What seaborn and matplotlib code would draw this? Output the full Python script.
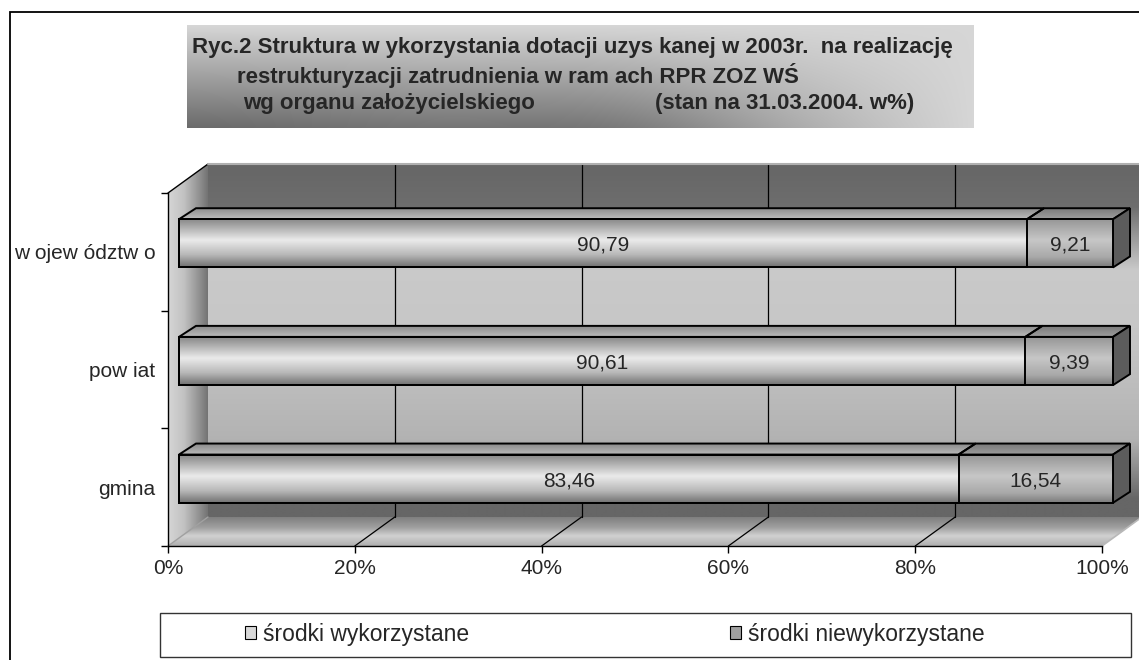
import numpy as np
import pandas as pd
import matplotlib
matplotlib.use("Agg")
import matplotlib.pyplot as plt
import seaborn as sns
from matplotlib.patches import Polygon, Rectangle, Patch

# ---------------- data ----------------
categories = ["w ojew ództw o", "pow iat", "gmina"]
used = [90.79, 90.61, 83.46]
unused = [9.21, 9.39, 16.54]
series = ["środki wykorzystane", "środki niewykorzystane"]
xticks = [0, 20, 40, 60, 80, 100]
xticklabels = ["0%", "20%", "40%", "60%", "80%", "100%"]
title_line1 = "Ryc.2 Struktura w ykorzystania dotacji uzys kanej w 2003r.  na realizację"
title_line2 = "restrukturyzacji zatrudnienia w ram ach RPR ZOZ WŚ"
title_line3a = "wg organu założycielskiego"
title_line3b = "(stan na 31.03.2004. w%)"

W, H = 1139, 660
sns.set_style("white")
plt.rcParams["font.family"] = ["Liberation Sans", "DejaVu Sans"]

fig = plt.figure(figsize=(W / 100, H / 100), dpi=100)
fig.patch.set_facecolor("white")


def fx(px):
    return px / W


def fy(py):
    return 1 - py / H


ax = fig.add_axes([fx(168), fy(546), 934 / W, 353 / H])
ax.set_facecolor("none")

df = pd.DataFrame({"kategoria": categories, "wykorzystane": used, "niewykorzystane": unused})
df["razem"] = df["wykorzystane"] + df["niewykorzystane"]

BAR_W = 0.41
sns.barplot(data=df, x="razem", y="kategoria", orient="h", color="#a8a8a8", saturation=1,
            width=BAR_W, errorbar=None, edgecolor="black", linewidth=1.4, ax=ax)
sns.barplot(data=df, x="wykorzystane", y="kategoria", orient="h", color="#dcdcdc", saturation=1,
            width=BAR_W, errorbar=None, edgecolor="black", linewidth=1.4, ax=ax)
dark_bars = list(ax.containers[0])
light_bars = list(ax.containers[1])

n = len(categories)
ax.set_xlim(0, 100)
ax.set_ylim(n - 0.5, -0.5)
ax.set_autoscale_on(False)


def shifted(x, y, dx, dy):
    X, Y = ax.transData.transform((x, y))
    return tuple(ax.transData.inverted().transform((X + dx, Y + dy)))


def gradient_fill(verts, stops, direction="v", zorder=1.0):
    verts = np.asarray(verts, dtype=float)
    poly = Polygon(verts, closed=True, facecolor="none", edgecolor="none",
                   transform=ax.transData, clip_on=False)
    ax.add_patch(poly)
    pos, val = zip(*stops)
    t = np.linspace(0, 1, 256)
    v = np.interp(t, pos, val)
    if direction == "v":
        arr = np.repeat(v[:, None], 2, axis=1)
    else:
        arr = np.repeat(v[None, :], 2, axis=0)
    rgb = np.dstack([arr, arr, arr])
    x0, x1 = verts[:, 0].min(), verts[:, 0].max()
    y0, y1 = verts[:, 1].min(), verts[:, 1].max()
    im = ax.imshow(rgb, extent=(x0, x1, y1, y0), origin="upper", aspect="auto",
                   interpolation="bilinear", zorder=zorder)
    im.set_clip_box(fig.bbox)
    im.set_clip_path(poly)
    return im


# ---------------- 3D walls ----------------
WALL = (40, 29)
yb, yt = n - 0.5, -0.5
fl, fr, tr, tl = (0, yb), (100, yb), (100, yt), (0, yt)
bfl, bfr, btr, btl = (shifted(*p, *WALL) for p in (fl, fr, tr, tl))

back_stops = [(0, 0.40), (0.12, 0.43), (0.30, 0.79), (0.47, 0.78), (0.78, 0.70), (0.95, 0.40), (1, 0.40)]
left_stops = [(0, 0.84), (0.4, 0.76), (0.8, 0.56), (1, 0.45)]
floor_stops = [(0, 0.50), (0.35, 0.62), (0.65, 0.82), (1, 0.68)]
gradient_fill([bfl, bfr, btr, btl], back_stops, "v", 0.2)
gradient_fill([tl, btl, bfl, fl], left_stops, "h", 0.3)
gradient_fill([fl, fr, bfr, bfl], floor_stops, "v", 0.3)

for xv in xticks[1:]:
    p0 = shifted(xv, yb, *WALL)
    p1 = shifted(xv, yt, *WALL)
    ax.plot([p0[0], p1[0]], [p0[1], p1[1]], color="black", lw=0.9, zorder=0.5, clip_on=False)
    if xv < 100:
        ax.plot([xv, p0[0]], [yb, p0[1]], color="black", lw=0.9, zorder=0.5, clip_on=False)

ax.plot([tl[0], btl[0]], [tl[1], btl[1]], color="black", lw=1.0, zorder=0.6, clip_on=False)
ax.plot([btl[0], btr[0]], [btl[1], btr[1]], color="#b0b0b0", lw=1.5, zorder=0.6, clip_on=False)
ax.plot([fr[0], bfr[0]], [fr[1], bfr[1]], color="#b8b8b8", lw=1.2, zorder=0.6, clip_on=False)
ax.plot([fl[0], bfl[0]], [fl[1], bfl[1]], color="#a0a0a0", lw=1.0, zorder=0.6, clip_on=False)

# ---------------- 3D bars ----------------
FRONT = (11, 8.5)
DEPTH = (17, 11)
light_front = [(0, 0.52), (0.12, 0.62), (0.45, 0.92), (0.75, 0.72), (1, 0.44)]
dark_front = [(0, 0.58), (0.45, 0.78), (0.8, 0.66), (1, 0.48)]
light_top = [(0, 0.55), (1, 0.74)]
dark_top = [(0, 0.48), (1, 0.62)]

for p in dark_bars + light_bars:
    nx, ny = shifted(p.get_x(), p.get_y(), *FRONT)
    p.set_x(nx)
    p.set_y(ny)
    p.set_clip_on(False)
    p.set_facecolor("none")
for p in dark_bars:
    p.set_zorder(3.3)
for p in light_bars:
    p.set_zorder(3.5)

for i in range(n):
    lp, dp = light_bars[i], dark_bars[i]
    y_top = lp.get_y()
    y_bot = lp.get_y() + lp.get_height()
    x0 = lp.get_x()
    xm = x0 + lp.get_width()
    x1 = dp.get_x() + dp.get_width()

    gradient_fill([(x0, y_top), (xm, y_top), (xm, y_bot), (x0, y_bot)], light_front, "v", 3.2)
    gradient_fill([(xm, y_top), (x1, y_top), (x1, y_bot), (xm, y_bot)], dark_front, "v", 3.2)

    ftl, ftm, ftr, fbr = (x0, y_top), (xm, y_top), (x1, y_top), (x1, y_bot)
    b_tl, b_tm, b_tr, b_br = (shifted(*q, *DEPTH) for q in (ftl, ftm, ftr, fbr))
    gradient_fill([ftl, ftm, b_tm, b_tl], light_top, "v", 2.8)
    gradient_fill([ftm, ftr, b_tr, b_tm], dark_top, "v", 2.8)
    for poly in ([ftl, ftm, b_tm, b_tl], [ftm, ftr, b_tr, b_tm]):
        ax.add_patch(Polygon(poly, closed=True, facecolor="none", edgecolor="black",
                             lw=1.4, zorder=2.9, clip_on=False))
    ax.add_patch(Polygon([ftr, fbr, b_br, b_tr], closed=True, facecolor="#5c5c5c",
                         edgecolor="black", lw=1.4, zorder=2.9, clip_on=False))

    yc = (y_top + y_bot) / 2
    ax.text((x0 + xm) / 2, yc, f"{used[i]:.2f}".replace(".", ","), ha="center",
            va="center_baseline", fontsize=15, zorder=6, clip_on=False)
    ax.text((xm + x1) / 2, yc, f"{unused[i]:.2f}".replace(".", ","), ha="center",
            va="center_baseline", fontsize=15, zorder=6, clip_on=False)

# ---------------- axes ----------------
ax.set_xticks(xticks)
ax.set_xticklabels(xticklabels, fontsize=15)
ax.set_yticks([-0.5 + k for k in range(n + 1)])
ax.set_yticklabels([])
ax.set_yticks(list(range(n)), minor=True)
ax.set_yticklabels(categories, minor=True, fontsize=15)
ax.tick_params(axis="y", which="major", length=5, width=1, direction="out", left=True, color="black")
ax.tick_params(axis="y", which="minor", length=0, pad=9, left=True)
ax.tick_params(axis="x", length=5, width=1, direction="out", bottom=True, pad=4, color="black")
ax.set_xlabel("")
ax.set_ylabel("")
for s in ("top", "right"):
    ax.spines[s].set_visible(False)
for s in ("left", "bottom"):
    ax.spines[s].set_color("black")
    ax.spines[s].set_linewidth(1.0)
    ax.spines[s].set_zorder(2.5)

# ---------------- title box ----------------
tax = fig.add_axes([fx(187), fy(128), (974 - 187) / W, (128 - 25) / H])
tax.set_axis_off()
gx = np.linspace(0, 1, 300)
gy = np.linspace(0, 1, 80)
GX, GY = np.meshgrid(gx, gy)
V = 0.84 - 0.42 * GY * (1 - GX ** 1.6) - 0.10 * np.exp(-((GX - 0.55) / 0.2) ** 2) * GY
V = np.clip(V, 0, 1)
tax.imshow(np.dstack([V, V, V]), extent=(0, 1, 0, 1), origin="upper", aspect="auto",
           interpolation="bilinear")
tfont = dict(fontsize=16, fontweight="bold", va="center", ha="left", zorder=5)
fig.text(fx(192), fy(47), title_line1, **tfont)
fig.text(fx(237), fy(75), title_line2, **tfont)
fig.text(fx(243), fy(103), title_line3a, **tfont)
fig.text(fx(655), fy(103), title_line3b, **tfont)

# ---------------- legend ----------------
handles = [Patch(facecolor="#d8d8d8", edgecolor="black", lw=0.8),
           Patch(facecolor="#a0a0a0", edgecolor="black", lw=0.8)]
fig.legend(handles, series, loc="center left", bbox_to_anchor=(fx(245), fy(634)), ncol=2,
           frameon=False, fontsize=16.5, handlelength=0.5, handleheight=0.5,
           handletextpad=0.27, columnspacing=11.4, borderpad=0, borderaxespad=0)
fig.add_artist(Rectangle((fx(160), fy(657)), (1131 - 160) / W, 44 / H, transform=fig.transFigure,
                         fill=False, edgecolor="#333333", lw=1.0))

# outer frame
fig.add_artist(Rectangle((fx(10), -0.1), 1.2, fy(12) + 0.1, transform=fig.transFigure,
                         fill=False, edgecolor="black", lw=1.3))

fig.savefig("out.png", dpi=100)
